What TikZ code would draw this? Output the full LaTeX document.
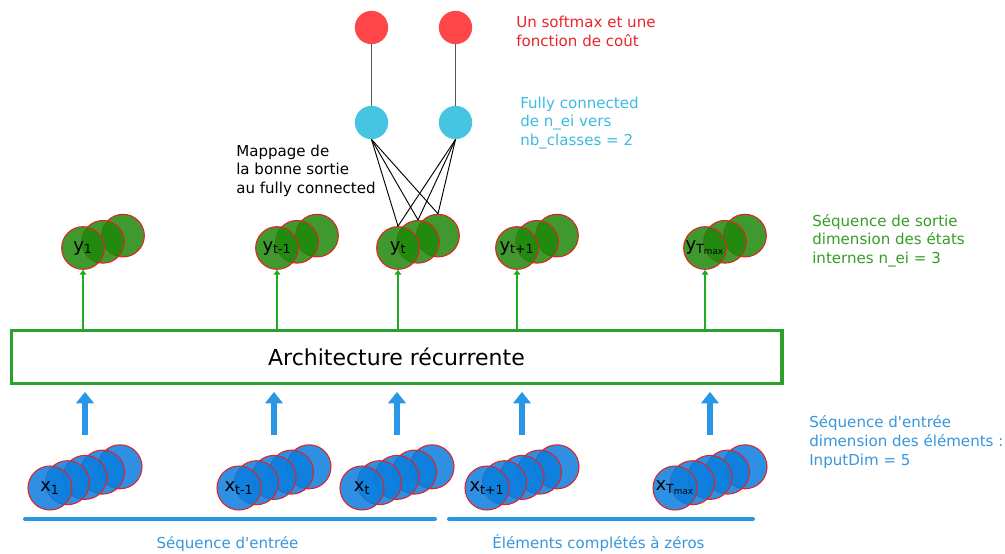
\documentclass[tikz,border=0pt]{standalone}
\usepackage{fontspec}
\setmainfont{DejaVu Sans}
\usetikzlibrary{arrows.meta}
\usetikzlibrary{calc}

\definecolor{softred}{RGB}{255,70,72}
\definecolor{fccyan}{RGB}{70,197,226}
\definecolor{edgered}{RGB}{225,35,35}
\definecolor{outgreen}{RGB}{30,135,10}
\definecolor{ingreen}{RGB}{10,125,222}
\definecolor{boxgreen}{RGB}{44,160,44}
\definecolor{arrowgreen}{RGB}{34,170,34}
\definecolor{arrowblue}{RGB}{42,150,232}
\definecolor{notered}{RGB}{235,35,40}
\definecolor{notecyan}{RGB}{60,187,224}
\definecolor{notegreen}{RGB}{55,155,40}
\definecolor{noteblue}{RGB}{55,150,220}

\begin{document}
\begin{tikzpicture}[x=0.75pt,y=-0.75pt]

\tikzstyle{softmax}=[circle, fill=softred, minimum size=25pt, inner sep=0pt]
\tikzstyle{dense}=[circle, fill=fccyan, minimum size=25pt, inner sep=0pt]
\tikzstyle{outstate}=[circle, draw=edgered, line width=0.8pt, fill=outgreen, fill opacity=0.85, text opacity=1, minimum size=32pt, inner sep=0pt, font=\fontsize{13.5}{13.5}\selectfont]
\tikzstyle{instate}=[circle, draw=edgered, line width=0.8pt, fill=ingreen, fill opacity=0.85, text opacity=1, minimum size=33pt, inner sep=0pt, font=\fontsize{13.5}{13.5}\selectfont]
\tikzstyle{link}=[draw=black!65, line width=1.1pt]
\tikzstyle{fc}=[draw=black, line width=0.7pt]
\tikzstyle{outarrow}=[-{Triangle[width=5pt,length=3.5pt]}, draw=arrowgreen, fill=arrowgreen, line width=0.8pt]
\tikzstyle{inarrow}=[-{Triangle[width=13pt,length=8.5pt]}, draw=arrowblue, fill=arrowblue, line width=4.5pt]
\tikzstyle{inbar}=[draw=arrowblue, line width=3pt, line cap=round]
\tikzstyle{note}=[anchor=north west, inner sep=0pt, align=left, font=\fontsize{11.3}{14}\selectfont]

\useasboundingbox (0,0) rectangle (1005,553);

% softmax et fully connected
\node[softmax] (sm1) at (371.5,27.5) {};
\node[softmax] (sm2) at (455.5,27.5) {};
\node[dense] (fc1) at (371.5,122.5) {};
\node[dense] (fc2) at (455.5,122.5) {};

\draw[link] (sm1) -- (fc1);
\draw[link] (sm2) -- (fc2);

% sequence de sortie
\foreach \name/\px/\lab in {1/83/{y\textsubscript{1}}, tm/277/{y\textsubscript{t-1}}, t/398/{y\textsubscript{t}}, tp/517/{y\textsubscript{t+1}}, T/705/{y\textsubscript{T\textsubscript{max}}}}{
  \foreach \k in {2,1}
    \node[outstate] (y\name-\k) at (\px+20*\k, 248-6.2*\k) {};
  \node[outstate] (y\name-0) at (\px,248) {\lab};
}

% sequence d'entree
\foreach \name/\px/\lab in {1/50/{x\textsubscript{1}}, tm/239/{x\textsubscript{t-1}}, t/362/{x\textsubscript{t}}, tp/487/{x\textsubscript{t+1}}, T/675/{x\textsubscript{T\textsubscript{max}}}}{
  \foreach \k in {4,3,2,1}
    \node[instate] (x\name-\k) at (\px+17.5*\k, 488-5.3*\k) {};
  \node[instate] (x\name-0) at (\px,488) {\lab};
}

\node[draw=boxgreen, line width=2.5pt, minimum width=578pt, minimum height=39.4pt, inner sep=0pt, font=\fontsize{16.5}{16.5}\selectfont] (rnn) at (396.5,357) {Architecture récurrente};

\foreach \name in {1,tm,t,tp,T}{
  \draw[outarrow] (rnn.north -| y\name-0) -- (y\name-0.south);
  \draw[inarrow] ($(rnn.south -| x\name-2)+(0,50)$) -- ($(rnn.south -| x\name-2)+(0,7)$);
}

\foreach \s in {fc1,fc2}
  \foreach \k in {0,1,2}
    \draw[fc] (\s.south) -- (yt-\k.north);

\draw[inbar] (25,519) -- (435,519);
\draw[inbar] (449,519) -- (753,519);

\node[note, text=notered] (smnote) at (516,16) {Un softmax et une\\fonction de coût};
\node[note, text=notecyan] (fcnote) at (520,96.5) {Fully connected\\de n\_ei vers\\nb\_classes = 2};
\node[note] (mapnote) at (236,144.3) {Mappage de\\la bonne sortie\\au fully connected};
\node[note, text=notegreen] (outnote) at (812,214) {Séquence de sortie\\dimension des états\\internes n\_ei = 3};
\node[note, text=noteblue] (innote) at (809,415.5) {Séquence d\textquotesingle entrée\\dimension des éléments :\\InputDim = 5};

\node[text=noteblue, font=\fontsize{11.3}{14}\selectfont] (seqin) at (227.5,544) {Séquence d\textquotesingle entrée};
\node[text=noteblue, font=\fontsize{11.3}{14}\selectfont] (zeros) at (598.5,543) {Éléments complétés à zéros};

\end{tikzpicture}
\end{document}
